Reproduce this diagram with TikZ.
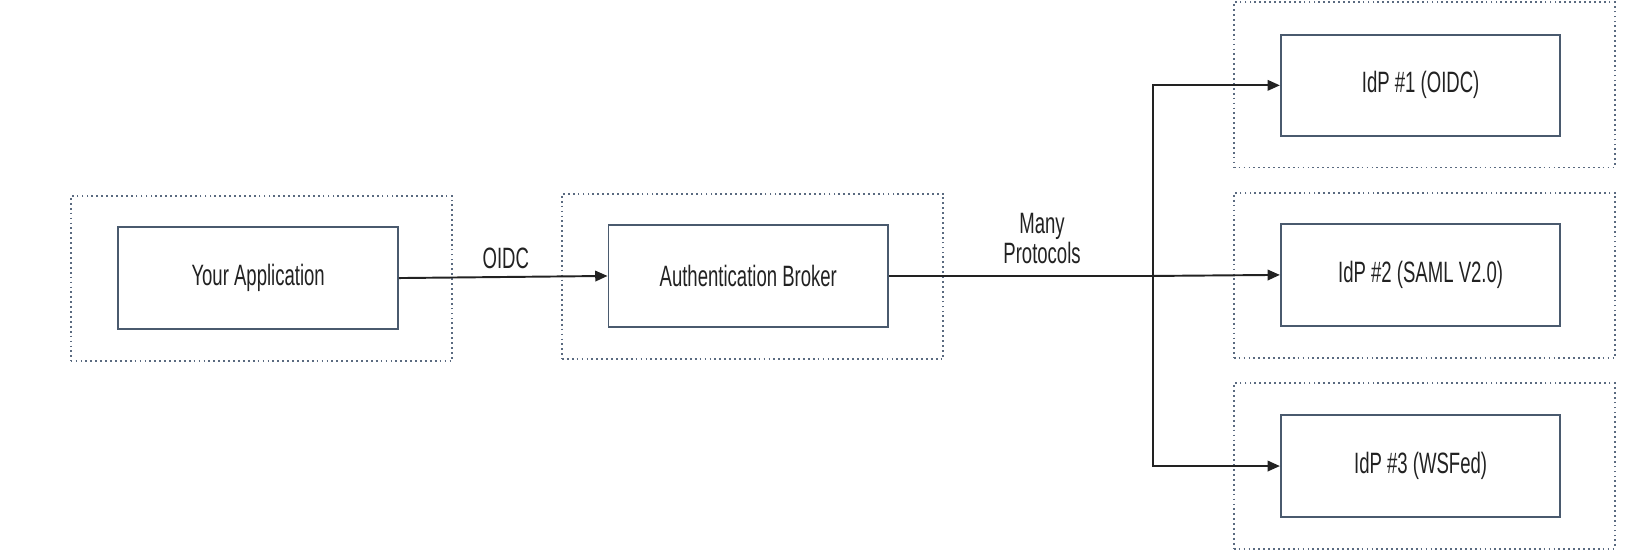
\documentclass[tikz,border=0pt]{standalone}
\usepackage{fontspec}
\setmainfont{Liberation Sans}[FakeStretch=0.63]
\usetikzlibrary{arrows.meta}
\definecolor{boxline}{HTML}{4A5A6E}
\definecolor{dotline}{HTML}{5A6A80}
\definecolor{txt}{HTML}{222222}
\tikzset{
  solidbox/.style={draw=boxline, line width=1.1pt, fill=white, minimum width=5.593cm, minimum height=2.032cm, inner sep=0pt, text=txt, font=\fontsize{16.75}{17.3}\selectfont},
  dotbox/.style={draw=dotline, line width=1pt, dash pattern=on 1pt off 1.8pt, minimum width=7.624cm, minimum height=3.309cm, inner sep=0pt},
  conn/.style={draw=txt, line width=1.1pt, -{Triangle[length=7pt,width=6pt]}},
  trunk/.style={draw=txt, line width=1.5pt},
  lbl/.style={text=txt, font=\fontsize{16.75}{17.3}\selectfont, align=center, inner sep=0pt}
}
\begin{document}
\begin{tikzpicture}[x=0.020946cm, y=-0.020946cm]
\useasboundingbox (0,0) rectangle (1565,532);
% dotted containers
\node[dotbox] (d1) at (249.5,266) {};
\node[dotbox] (d2) at (718.5,264) {};
\node[dotbox] (d3) at (1360,81) {};
\node[dotbox] (d4) at (1360,263) {};
\node[dotbox] (d5) at (1360,445) {};
% boxes
\node[solidbox] (app) at (246.5,265.5) {Your Application};
\node[solidbox] (broker) at (714.5,263.5) {Authentication Broker};
\node[solidbox] (idp1) at (1356.5,81.5) {IdP \#1 (OIDC)};
\node[solidbox] (idp2) at (1356.5,262.5) {IdP \#2 (SAML V2.0)};
\node[solidbox] (idp3) at (1356.5,445) {IdP \#3 (WSFed)};
% connectors
\draw[conn] (app.east) -- (broker.west);
\coordinate (split) at (1101,263.5);
\draw[trunk] (broker.east) -- (split);
\draw[conn] (split) |- (idp1.west);
\draw[conn] (split) -- (idp2.west);
\draw[conn] (split) |- (idp3.west);
% labels
\node[lbl] (l1) at (483,247) {OIDC};
\node[lbl] (l2) at (995,228) {Many\\Protocols};
\end{tikzpicture}
\end{document}
